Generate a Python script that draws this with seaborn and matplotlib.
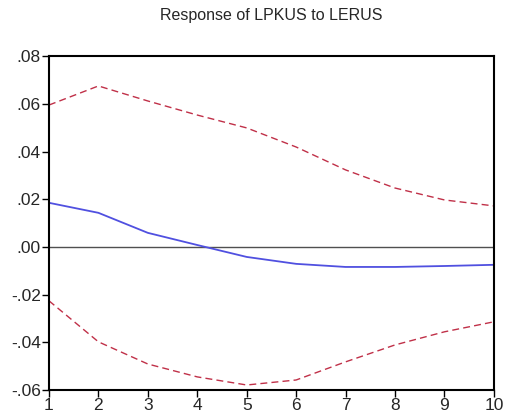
import pandas as pd
import matplotlib
matplotlib.use("Agg")
import matplotlib.pyplot as plt
import seaborn as sns

periods = [1, 2, 3, 4, 5, 6, 7, 8, 9, 10]
response = [0.0185, 0.0143, 0.0059, 0.0008, -0.0042, -0.0071, -0.0084, -0.0084, -0.0080, -0.0075]
upper = [0.0595, 0.0675, 0.0612, 0.0553, 0.0499, 0.0419, 0.0323, 0.0247, 0.0197, 0.0172]
lower = [-0.0226, -0.0398, -0.0491, -0.0545, -0.0579, -0.0558, -0.0482, -0.0411, -0.0356, -0.0314]
ytick_vals = [-0.06, -0.04, -0.02, 0.0, 0.02, 0.04, 0.06, 0.08]
ytick_labels = ["-.06", "-.04", "-.02", ".00", ".02", ".04", ".06", ".08"]

sns.set_style("white")
plt.rcParams["font.family"] = ["Liberation Sans", "DejaVu Sans"]

df = pd.DataFrame({"period": periods, "response": response, "upper": upper, "lower": lower})

fig = plt.figure(figsize=(5.06, 4.19), dpi=100)
ax = fig.add_axes([0.0968, 0.0692, 0.8792, 0.7968])

ax.axhline(0, color="#505050", linewidth=1.0, zorder=1)
sns.lineplot(data=df, x="period", y="upper", ax=ax, color="#c03048", linewidth=1.0,
             linestyle=(0, (5, 3)))
sns.lineplot(data=df, x="period", y="lower", ax=ax, color="#c03048", linewidth=1.0,
             linestyle=(0, (5, 3)))
sns.lineplot(data=df, x="period", y="response", ax=ax, color="#5050e0", linewidth=1.3)

ax.set_xlim(1, 10)
ax.set_ylim(-0.06, 0.08)
ax.set_xticks(periods)
ax.set_xticklabels([str(p) for p in periods], fontsize=12.5)
ax.set_yticks(ytick_vals)
ax.set_yticklabels(ytick_labels, fontsize=12.5)
ax.set_xlabel("")
ax.set_ylabel("")
ax.tick_params(axis="both", direction="out", length=5, width=1, color="black",
               left=True, bottom=True, pad=1)
for s in ax.spines.values():
    s.set_color("black")
    s.set_linewidth(1.5)
ax.set_title("Response of LPKUS to LERUS", fontsize=11.5, pad=26)

fig.savefig("out.png", dpi=100)
